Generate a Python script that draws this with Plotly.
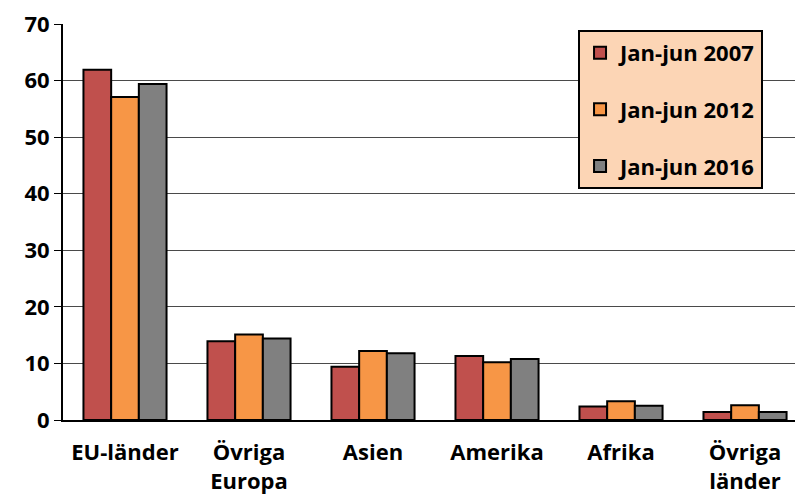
import plotly.graph_objects as go

categories = ["EU-länder", "Övriga<br>Europa", "Asien", "Amerika", "Afrika", "Övriga<br>länder"]
series_names = ["Jan-jun 2007", "Jan-jun 2012", "Jan-jun 2016"]
v2007 = [61.9, 13.9, 9.4, 11.3, 2.4, 1.4]
v2012 = [57.1, 15.1, 12.2, 10.2, 3.3, 2.6]
v2016 = [59.4, 14.4, 11.8, 10.8, 2.5, 1.4]
colors = ["#C0504D", "#F79646", "#808080"]
y_ticks = [0, 10, 20, 30, 40, 50, 60, 70]

font_family = "'Open Sans', Carlito, Calibri, sans-serif"

fig = go.Figure()
for i, (name, vals) in enumerate(zip(series_names, [v2007, v2012, v2016])):
    fig.add_trace(go.Bar(
        x=categories, y=vals, name=name,
        marker=dict(color=colors[i], line=dict(color="#000000", width=2)),
        legendgroup=name,
    ))

fig.update_layout(
    width=795, height=498,
    margin=dict(l=63, r=0, t=24, b=78),
    paper_bgcolor="white", plot_bgcolor="white",
    barmode="group", bargap=0.33, bargroupgap=0,
    font=dict(family=font_family, size=22, color="#000000", weight="bold"),
    xaxis=dict(
        range=[-0.5, 5.403], showline=True, linecolor="#000000", linewidth=2,
        ticks="", tickfont=dict(size=22, weight="bold"), showgrid=False,
        ticklabelstandoff=12,
    ),
    yaxis=dict(
        range=[0, 70], tickvals=y_ticks, showline=True, linecolor="#000000", linewidth=2,
        ticks="outside", ticklen=7, tickcolor="#000000", tickwidth=1,
        showgrid=True, gridcolor="#4a4a4a", gridwidth=1,
        tickfont=dict(size=22, weight="bold"), zeroline=False,
    ),
    legend=dict(
        x=0.7036, y=0.985, xanchor="left", yanchor="top",
        bgcolor="#FCD5B5", bordercolor="#000000", borderwidth=2,
        font=dict(size=22, weight="bold"),
        traceorder="grouped", tracegroupgap=25,
    ),
    showlegend=True,
)

fig.write_html("out.html")
